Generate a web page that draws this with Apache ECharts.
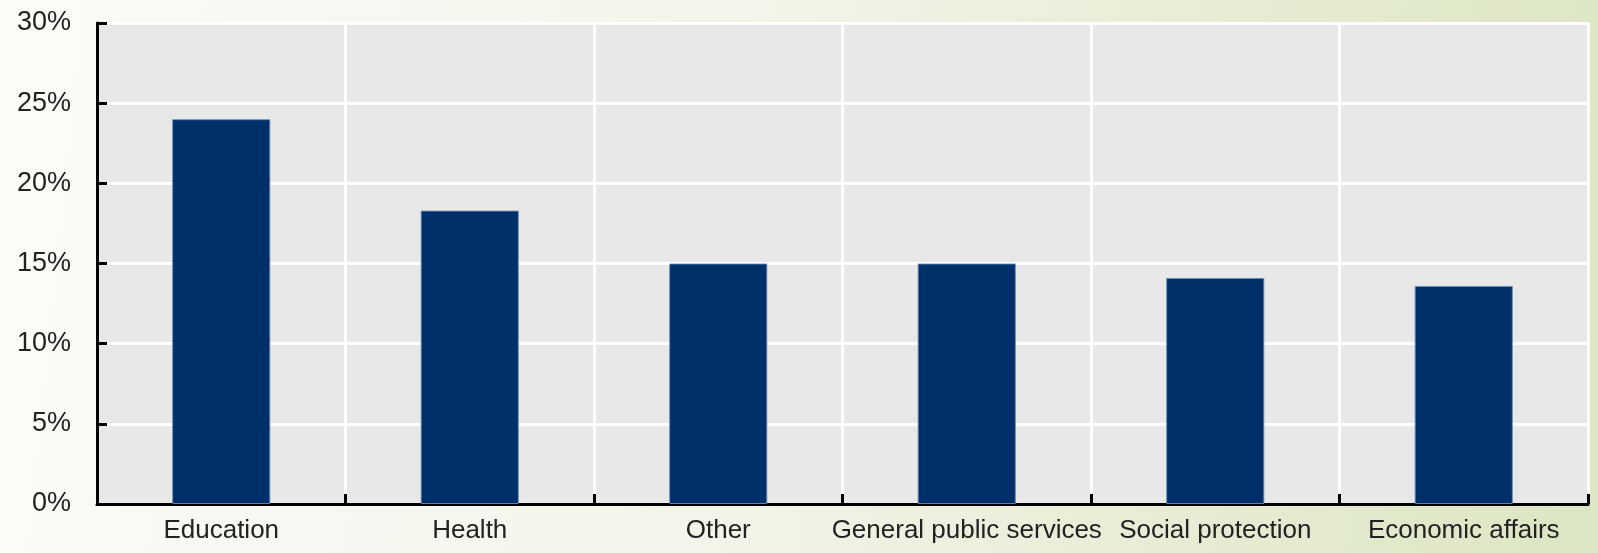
<!DOCTYPE html>
<html>
<head>
<meta charset="utf-8">
<script src="https://cdn.jsdelivr.net/npm/echarts@6/dist/echarts.min.js"></script>
<style>
html,body{margin:0;padding:0;}
#chart{width:1598px;height:553px;}
</style>
</head>
<body>
<div id="chart"></div>
<script>
const categories = ['Education', 'Health', 'Other', 'General public services', 'Social protection', 'Economic affairs'];
const shares = [24.0, 18.3, 15.0, 15.0, 14.1, 13.6];
const yTicks = [0, 5, 10, 15, 20, 25, 30];

const FONT = '"Liberation Sans", Arial, sans-serif';
const chart = echarts.init(document.getElementById('chart'));
chart.setOption({
  animation: false,
  backgroundColor: {
    type: 'linear', x: 0, y: 0, x2: 1, y2: 0.3,
    colorStops: [
      {offset: 0, color: '#fbfbf8'},
      {offset: 0.45, color: '#f3f5ea'},
      {offset: 1, color: '#dde6c4'}
    ]
  },
  grid: {
    left: 97, right: 10, top: 23, bottom: 49,
    show: true, backgroundColor: '#e8e8e8', borderColor: '#ffffff', borderWidth: 2
  },
  xAxis: {
    type: 'category',
    data: categories,
    boundaryGap: true,
    axisLine: {show: true, lineStyle: {color: '#000', width: 3}},
    axisTick: {show: true, inside: true, length: 10, lineStyle: {color: '#000', width: 3}},
    splitLine: {show: true, lineStyle: {color: '#ffffff', width: 3}},
    axisLabel: {color: '#222', fontSize: 26, fontFamily: FONT, margin: 14, interval: 0}
  },
  yAxis: {
    type: 'value',
    min: yTicks[0], max: yTicks[yTicks.length - 1], interval: 5,
    axisLine: {show: true, lineStyle: {color: '#000', width: 3}},
    axisTick: {show: true, inside: true, length: 10, lineStyle: {color: '#000', width: 3}},
    splitLine: {show: true, lineStyle: {color: '#ffffff', width: 3}},
    axisLabel: {color: '#222', fontSize: 27, fontFamily: FONT, margin: 26, formatter: '{value}%'}
  },
  series: [{
    type: 'bar',
    data: shares,
    barWidth: '39.5%',
    itemStyle: {color: '#012f69', borderColor: 'rgba(110,140,185,0.9)', borderWidth: 1}
  }]
});
</script>
</body>
</html>
